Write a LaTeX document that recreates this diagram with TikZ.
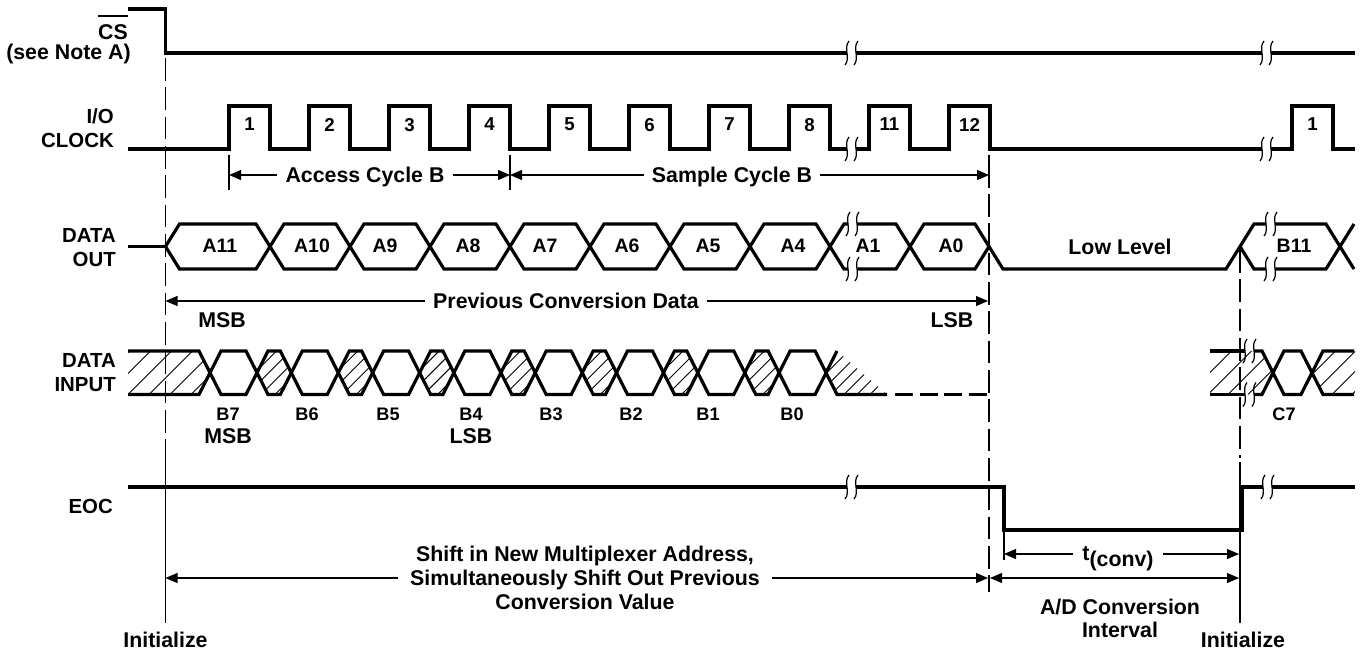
\documentclass[tikz,border=0pt]{standalone}
\usepackage{fontspec}
\setmainfont{Liberation Sans}
\usetikzlibrary{arrows.meta}
\begin{document}
\begin{tikzpicture}[x=0.75pt,y=-0.75pt,
  sig/.style={line width=2.4pt},
  thinl/.style={line width=0.8pt},
  dsh/.style={line width=0.8pt,dash pattern=on 17pt off 5pt},
  arr/.style={line width=0.8pt,-{Triangle[length=9pt,width=7.5pt]}},
  dblarr/.style={line width=0.8pt,{Triangle[length=9pt,width=7.5pt]}-{Triangle[length=9pt,width=7.5pt]}},
  hatchl/.style={line width=0.7pt},
  slab/.style={font=\bfseries\fontsize{15.3}{18}\selectfont,inner sep=0pt,text depth=0pt},
  clab/.style={font=\bfseries\fontsize{16}{18}\selectfont,inner sep=0pt,text depth=0pt},
  alab/.style={font=\bfseries\fontsize{16}{18}\selectfont,inner xsep=6pt,inner ysep=0pt,text depth=0pt,align=center},
  cell/.style={font=\bfseries\fontsize{14.6}{16}\selectfont,inner sep=0pt,text depth=0pt},
  num/.style={font=\bfseries\fontsize{14}{15}\selectfont,inner sep=0pt,text depth=0pt},
  blab/.style={font=\bfseries\fontsize{13.6}{15}\selectfont,inner sep=0pt,text depth=0pt},
  pics/brk/.style={code={\draw[line width=0.9pt] (2,-12) .. controls (-4,-5) and (4,5) .. (-2,12);}}
]
\useasboundingbox (0,0) rectangle (1364,651);

% ---------- left labels ----------
\node[clab,anchor=east] (lcs) at (128,32) {CS};
\draw[line width=1.4pt] ([yshift=6.5pt]lcs.north west) -- ([yshift=6.5pt]lcs.north east);
\node[clab,anchor=east] (lnote) at (131,52) {(see Note A)};
\node[slab,anchor=east,align=right] (lclk) at (114,128) {I/O\\CLOCK};
\node[slab,anchor=east,align=right] (ldo) at (116,247.5) {DATA\\OUT};
\node[slab,anchor=east,align=right] (ldi) at (116,372.5) {DATA\\INPUT};
\node[slab,anchor=east] (leoc) at (113,506.5) {EOC};

% ---------- CS ----------
\draw[sig] (128,9) -- (165.5,9) -- (165.5,53) -- (847,53);
\draw[sig] (856,53) -- (1262,53);
\draw[sig] (1271,53) -- (1355,53);

% ---------- I/O CLOCK ----------
\draw[sig] (128,149) foreach \k in {0,...,7} { -- ({229+80*\k},149) -- ({229+80*\k},106) -- ({270+80*\k},106) -- ({270+80*\k},149) } -- (847,149);
\draw[sig] (856,149) -- (869,149) -- (869,106) -- (910,106) -- (910,149) -- (949,149) -- (949,106) -- (990,106) -- (990,149) -- (1262,149);
\draw[sig] (1271,149) -- (1292,149) -- (1292,106) -- (1333,106) -- (1333,149) -- (1355,149);
\foreach \x/\nm in {249.5/1,329.5/2,409.5/3,489.5/4,569.5/5,649.5/6,729.5/7,809.5/8,889.5/11,969.5/12}
  \node[num] (k\nm) at (\x,124.5) {\nm};
\node[num] (kb1) at (1312.5,124.5) {1};

% ---------- DATA OUT ----------
\def\Ot{224}\def\Ob{269}\def\Om{246.5}
\draw[sig] (128,\Om) -- (165.5,\Om);
\foreach \xa/\xb in {165.5/270,270/350,350/430,430/510,510/590,590/670,670/750,750/830,910/989}
  \draw[sig] (\xa,\Om) -- ({\xa+14},\Ot) -- ({\xb-14},\Ot) -- (\xb,\Om) -- ({\xb-14},\Ob) -- ({\xa+14},\Ob) -- cycle;
\draw[sig] (830,\Om) -- (844,\Ot) -- (848,\Ot);
\draw[sig] (830,\Om) -- (844,\Ob) -- (848,\Ob);
\draw[sig] (857,\Ot) -- (896,\Ot) -- (910,\Om) -- (896,\Ob) -- (857,\Ob);
\draw[sig] (989,\Om) -- (1003,\Ob) -- (1226,\Ob) -- (1254,\Ot) -- (1266,\Ot);
\draw[sig] (1240,\Om) -- (1254,\Ob) -- (1266,\Ob);
\draw[sig] (1275,\Ot) -- (1326,\Ot) -- (1340,\Om) -- (1326,\Ob) -- (1275,\Ob);
\draw[sig] (1340,\Om) -- (1354,\Ot);
\draw[sig] (1340,\Om) -- (1354,\Ob);
\foreach \x/\nm in {220/A11,312/A10,385/A9,468/A8,545/A7,627/A6,708/A5,793/A4,868/A1,951/A0,1294/B11}
  \node[cell] (c\nm) at (\x,245.5) {\nm};
\node[clab] (low) at (1120,247) {Low Level};

% ---------- DATA INPUT ----------
\def\Dt{351}\def\Db{394.5}\def\Dm{372.75}
\begin{scope}
  \clip (128,\Dt) -- (199,\Dt) -- (210,\Dm) -- (199,\Db) -- (128,\Db) -- cycle;
  \foreach \x in {86,107,...,212} \draw[hatchl] (\x,\Db) -- ++(43.5,-43.5);
\end{scope}
\draw[sig] (128,\Dt) -- (199,\Dt) -- (210,\Dm) -- (199,\Db) -- (128,\Db);
\foreach \k in {0,...,7}{
  \pgfmathsetmacro\xs{210+81.3*\k}
  \pgfmathsetmacro\xe{\xs+47}
  \draw[sig] (\xs,\Dm) -- ({\xs+11},\Dt) -- ({\xe-11},\Dt) -- (\xe,\Dm) -- ({\xe-11},\Db) -- ({\xs+11},\Db) -- cycle;
}
\foreach \k in {0,...,6}{
  \pgfmathsetmacro\xa{257+81.3*\k}
  \pgfmathsetmacro\xb{291.3+81.3*\k}
  \begin{scope}
    \clip (\xa,\Dm) -- ({\xa+11},\Dt) -- ({\xb-11},\Dt) -- (\xb,\Dm) -- ({\xb-11},\Db) -- ({\xa+11},\Db) -- cycle;
    \foreach \i in {0,...,5} \draw[hatchl] ({\xa-38+14*\i},\Db) -- ++(43.5,-43.5);
  \end{scope}
  \draw[sig] (\xa,\Dm) -- ({\xa+11},\Dt) -- ({\xb-11},\Dt) -- (\xb,\Dm) -- ({\xb-11},\Db) -- ({\xa+11},\Db) -- cycle;
}
\begin{scope}
  \clip (826,\Dm) -- (837,\Dt) -- (887,\Db) -- (837,\Db) -- cycle;
  \foreach \x in {792,805,...,890} \draw[hatchl] (\x,\Db) -- ++(43.5,-43.5);
\end{scope}
\draw[sig] (826,\Dm) -- (837,\Dt);
\draw[sig] (826,\Dm) -- (837,\Db) -- (887,\Db);
\draw[sig,dash pattern=on 13.5pt off 5pt] (895,\Db) -- (993,\Db);
% right part
\begin{scope}
  \clip (1210,\Dt) -- (1262,\Dt) -- (1273,\Dm) -- (1262,\Db) -- (1210,\Db) -- cycle;
  \foreach \x in {1168,1188,...,1280} \draw[hatchl] (\x,\Db) -- ++(43.5,-43.5);
\end{scope}
\draw[sig] (1210,\Dt) -- (1245,\Dt);
\draw[sig] (1210,\Db) -- (1245,\Db);
\draw[sig] (1254,\Dt) -- (1262,\Dt) -- (1273,\Dm) -- (1262,\Db) -- (1254,\Db);
\draw[sig] (1273,\Dm) -- (1284,\Dt) -- (1301,\Dt) -- (1312,\Dm) -- (1301,\Db) -- (1284,\Db) -- cycle;
\begin{scope}
  \clip (1312,\Dm) -- (1323,\Dt) -- (1355,\Dt) -- (1355,\Db) -- (1323,\Db) -- cycle;
  \foreach \x in {1272,1292,...,1360} \draw[hatchl] (\x,\Db) -- ++(43.5,-43.5);
\end{scope}
\draw[sig] (1354,\Dt) -- (1323,\Dt) -- (1312,\Dm) -- (1323,\Db) -- (1354,\Db);
\foreach \x/\nm in {228/B7,307/B6,388/B5,471/B4,551/B3,631/B2,708/B1,792/B0}
  \node[blab] (d\nm) at (\x,414) {\nm};
\node[blab] (dC7) at (1284,414) {C7};
\node[clab] (msbb) at (228,436) {MSB};
\node[clab] (lsbb) at (471,436) {LSB};

% ---------- EOC ----------
\draw[sig] (128,487) -- (847,487);
\draw[sig] (856,487) -- (1004,487) -- (1004,530) -- (1242,530) -- (1242,487) -- (1263,487);
\draw[sig] (1272,487) -- (1355,487);

% ---------- break marks ----------
\foreach \p in {(847,53),(856,53),(1262,53),(1271,53),
                (847,149),(856,149),(1262,149),(1271,149),
                (848,224),(857,224),(848,269),(857,269),
                (1266,224),(1275,224),(1266,269),(1275,269),
                (1245,351),(1254,351),(1245,394.5),(1254,394.5),
                (847,487),(856,487),(1263,487),(1272,487)}
  \pic at \p {brk};

% ---------- vertical reference lines ----------
\draw[dsh] (165.5,58) -- (165.5,460);
\draw[thinl] (165.5,460) -- (165.5,623);
\draw[thinl] (229,155) -- (229,190);
\draw[thinl] (510,155) -- (510,190);
\draw[thinl] (989,155) -- (989,188);
\draw[dsh] (989,194) -- (989,592);
\draw[dsh] (1240,250) -- (1240,458);
\draw[thinl] (1240,462) -- (1240,623);
\draw[thinl] (1004,530) -- (1004,560);

% ---------- annotation arrows ----------
\node[alab] (acc) at (365,175) {Access Cycle B};
\coordinate (accL) at (229,175); \coordinate (accR) at (510,175);
\draw[arr] (acc) -- (accL); \draw[arr] (acc) -- (accR);
\node[alab] (smp) at (732,175) {Sample Cycle B};
\coordinate (smpL) at (510,175); \coordinate (smpR) at (989,175);
\draw[arr] (smp) -- (smpL); \draw[arr] (smp) -- (smpR);

\node[alab] (prv) at (566,301) {Previous Conversion Data};
\coordinate (prvL) at (165.5,301); \coordinate (prvR) at (988,301);
\draw[arr] (prv) -- (prvL); \draw[arr] (prv) -- (prvR);
\node[clab] (msba) at (222,320.5) {MSB};
\node[clab] (lsba) at (952,320.5) {LSB};

\node[alab,inner xsep=9pt] (shf) at (585,578) {Shift in New Multiplexer Address,\\Simultaneously Shift Out Previous\\Conversion Value};
\coordinate (shfL) at (165.5,578); \coordinate (shfR) at (988,578);
\draw[arr] (shf) -- (shfL); \draw[arr] (shf) -- (shfR);

\node[alab,inner xsep=7pt] (tcv) at (1118,554) {t\raisebox{-4pt}{(conv)}};
\coordinate (tcvL) at (1004,554); \coordinate (tcvR) at (1239,554);
\draw[arr] (tcv) -- (tcvL); \draw[arr] (tcv) -- (tcvR);

\coordinate (adL) at (990,578); \coordinate (adR) at (1239,578);
\draw[dblarr] (adL) -- (adR);
\node[alab,font=\bfseries\fontsize{16}{17.25}\selectfont] (adc) at (1120,618) {A/D Conversion\\Interval};

\node[clab] (ini1) at (165.5,640) {Initialize};
\node[clab] (ini2) at (1243,640) {Initialize};
\end{tikzpicture}
\end{document}
